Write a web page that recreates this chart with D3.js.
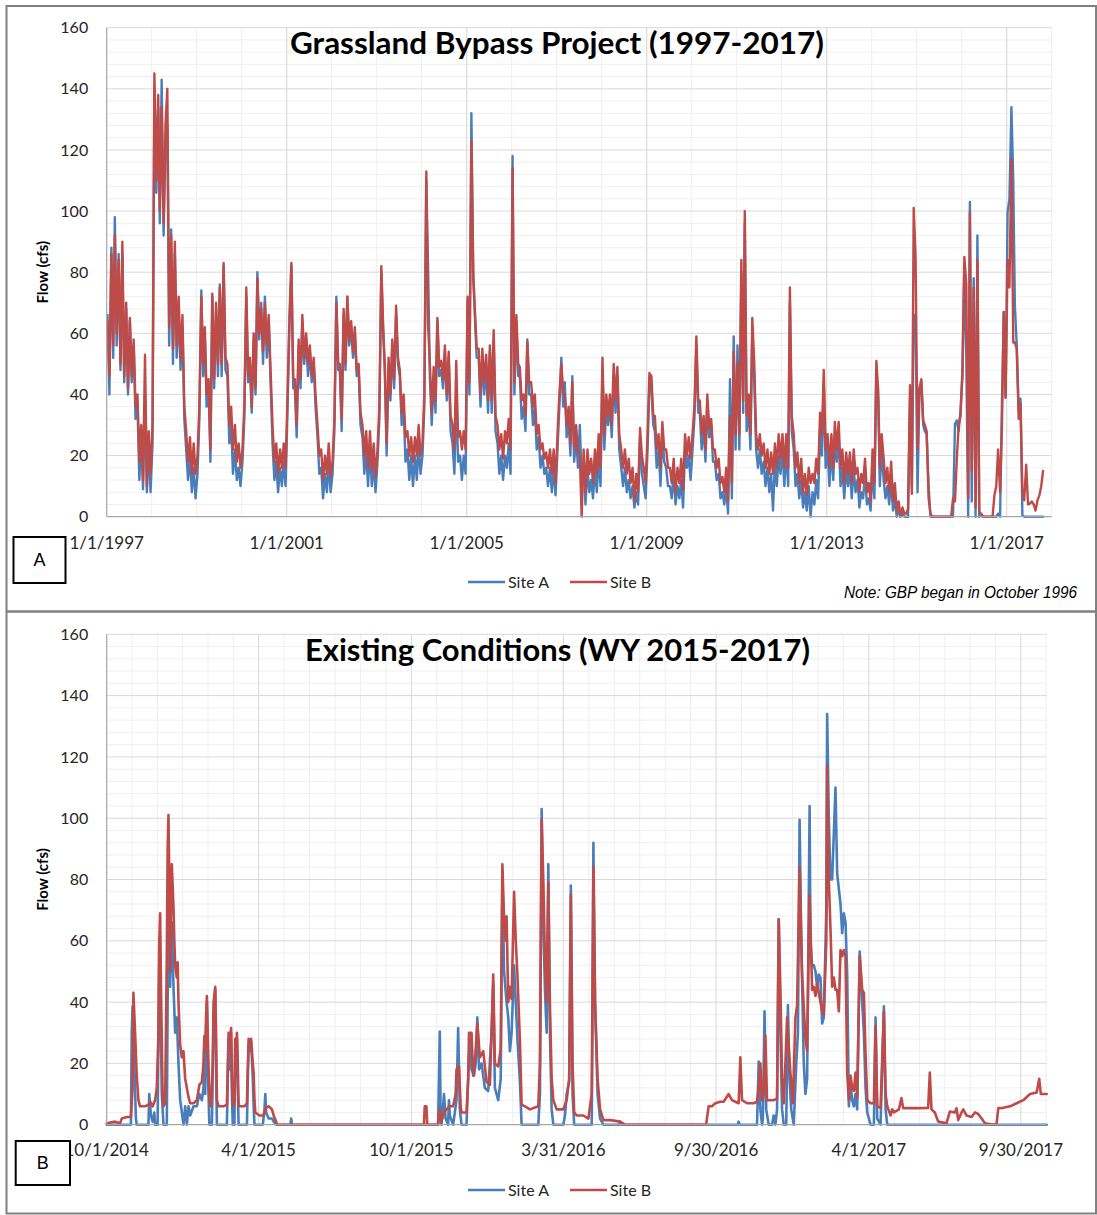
<!DOCTYPE html>
<html>
<head>
<meta charset="utf-8">
<script src="https://cdn.jsdelivr.net/npm/d3@7"></script>
<style>
  body { margin: 0; background: #fff; }
  svg { display: block; }
</style>
</head>
<body>
<svg id="chart" width="1097" height="1215"></svg>
<script>
// ---------------------------------------------------------------
// Shared labels
// ---------------------------------------------------------------
const seriesNames = ["Site A", "Site B"];
const flowTicks = [0, 20, 40, 60, 80, 100, 120, 140, 160];

// ---------------------------------------------------------------
// Panel A: Grassland Bypass Project, 1997-2017
// Semi-monthly flow (cfs), 24 readings per year starting Jan 1997
// (readings on the 8th and 23rd of each month), through Oct 2017.
// ---------------------------------------------------------------
const gbpStartYear = 1997;
const gbpTickLabels = ["1/1/1997", "1/1/2001", "1/1/2005", "1/1/2009", "1/1/2013", "1/1/2017"];

const gbpSiteA = [
  66,40,88,52,98,56,86,48,86,44,68,40,64,44,56,32,36,12,26,9,40,8,24,8,            // 1997
  24,140,106,134,96,143,92,122,128,56,94,50,86,52,68,48,62,32,22,12,20,8,16,6,     // 1998
  14,32,74,46,60,36,42,18,72,42,68,46,76,46,82,48,46,24,30,14,22,12,16,10,         // 1999
  18,32,72,44,50,34,58,40,80,58,70,50,72,52,64,44,24,12,18,8,16,10,18,10,          // 2000
  36,62,82,42,42,26,56,42,64,50,58,46,54,44,50,36,26,14,16,6,14,8,18,8,            // 2001
  14,28,72,48,48,28,66,48,72,56,62,52,60,46,48,30,26,14,22,10,22,10,18,8,          // 2002
  18,32,80,60,48,20,50,38,56,42,66,50,46,30,36,18,22,12,20,10,20,12,24,14,         // 2003
  20,36,110,80,46,30,46,34,64,46,48,42,54,38,52,28,24,14,40,18,20,12,20,14,        // 2004
  70,40,132,78,66,52,52,36,52,40,50,34,54,34,58,28,24,14,20,12,20,16,24,14,        // 2005
  118,40,64,46,46,32,36,28,58,40,40,30,36,22,26,16,20,14,16,10,16,8,16,7,          // 2006
  22,36,52,36,44,26,32,20,46,18,26,16,30,12,16,4,16,8,12,6,16,8,20,10,             // 2007
  48,22,36,30,38,26,46,34,46,22,16,10,16,8,12,6,10,3,8,4,26,14,10,6,               // 2008
  22,44,42,30,28,16,22,10,28,18,16,10,10,6,14,4,10,6,12,3,22,16,20,12,             // 2009
  22,32,56,34,34,22,30,18,38,26,30,18,18,12,14,6,8,4,10,1,45,6,59,22,              // 2010
  56,22,80,34,96,28,36,22,60,46,22,16,22,14,18,10,16,8,14,2,18,10,20,14,           // 2011
  22,10,22,10,70,28,22,10,14,6,12,3,8,2,10,0,8,4,12,6,28,20,44,16,                 // 2012
  22,10,22,12,26,18,26,10,16,6,16,10,16,6,16,8,12,3,8,6,14,4,6,2,                  // 2013
  16,6,48,38,10,22,12,6,10,4,12,2,6,0,2,0,1,0,0,0,38.6,10,66,66,                   // 2014
  8,40,44,30,28,27,10,0,0,0,0,0,0,0,0,0,0,0,0,0,30.4,31.5,28,35,                   // 2015
  46,82.6,52,0,103,5,78,0,92,0,0.3,0,0,0,0,0,0,0,0,1,0,37,67,39,                   // 2016
  99.5,104,134,110,69,56.5,35,38.6,0.5,0,0,0,0,0,0,0,0,0,0,0                       // 2017
];

const gbpSiteB = [
  64,46,86,56,92,60,84,50,90,46,70,42,65,46,58,36,40,18,30,12,53,10,28,14,         // 1997
  30,145,110,138,100,134,96,128,140,62,92,55,90,56,72,52,66,36,28,18,26,14,24,14,  // 1998
  20,36,72,50,62,40,45,22,73,45,70,50,75,50,83,52,50,30,36,22,30,18,24,16,         // 1999
  22,36,75,46,52,36,60,42,78,60,68,54,70,56,66,48,30,18,24,14,22,16,24,16,         // 2000
  40,65,83,45,45,30,58,45,66,52,60,50,56,46,52,40,30,20,22,12,20,14,24,13,         // 2001
  18,32,70,50,50,32,68,50,72,58,64,54,62,48,50,34,30,20,28,16,28,15,24,13,         // 2002
  22,36,82,62,50,24,52,40,58,45,69,52,48,34,40,26,28,20,26,18,26,20,30,20,         // 2003
  24,40,113,62,50,34,49,38,65,49,51,45,56,40,54,33,30,22,51,26,28,22,28,22,        // 2004
  72,44,123,80,68,55,55,40,55,44,53,38,56,38,61,33,30,22,27,19,28,24,32,22,        // 2005
  114,44,66,50,49,38,40,33,57,44,44,36,40,27,30,22,24,19,21,16,22,14,22,11,        // 2006
  27,40,50,40,40,30,36,24,44,22,30,21,20,0,22,8,22,14,19,11,22,14,27,16,           // 2007
  52,27,40,33,40,30,50,38,49,27,22,16,22,14,19,11,16,5,14,8,29,20,16,11,           // 2008
  27,47,46,33,33,22,27,16,31,22,22,16,16,11,19,8,16,11,19,9,27,20,26,19,           // 2009
  27,36,59,38,38,27,33,22,40,29,32,22,22,16,19,11,13,8,16,5,33,11,54,27,           // 2010
  50,27,84,38,100,33,40,27,65,51,27,22,27,20,24,16,22,14,21,14,24,16,27,19,        // 2011
  27,16,27,16,75,33,27,16,21,11,19,8,14,7,16,11,14,11,19,14,34,27,48,22,           // 2012
  27,16,27,16,31,22,31,16,22,11,21,14,21,11,22,14,16,8,14,11,19,8,11,5,            // 2013
  22,11,51,41,16,27,19,11,16,8,18,5,11,2,5,0,3,1,1,2.5,43,7.5,101,85,              // 2014
  22,42,45,31.5,30,28,6,1,0,0,0,0,0,0,0,0,0,0,0,6,5,19,30,33,                      // 2015
  49,85,76,6,99.5,15,75,3,84,1.5,1,0,0,0,0,0,0,7,10,22,8,29,67,39,                 // 2016
  84,75,117,57,57,55,32,37,8.7,5.4,17,4,4.3,5,4,2,5.4,7,10,15                      // 2017
];

// ---------------------------------------------------------------
// Panel B: Existing conditions, water years 2015-2017
// [days since 10/1/2014, flow cfs]
// ---------------------------------------------------------------
const wyStart = "10/1/2014";
const wyEndDay = 1126;
const wyTickLabels = ["10/1/2014", "4/1/2015", "10/1/2015", "3/31/2016", "9/30/2016", "4/1/2017", "9/30/2017"];

const wySiteA = [
  [0,0],[29,0],[30,30],[31,38.6],[33,20],[35,2],[36,0],[50,0],[51,10],[53,3],[55,1],[57,4],[58,0],
  [61,0],[62,30],[63,60],[64,45],[66,10],[68,0],[72,0],[73,40],[74,66],[75,55],[76,45],[77,60],[78,66],
  [79,55],[80,45],[82,30],[84,35],[86,20],[88,8],[90,4],[92,0],[94,6],[96,0],[98,6],[100,3],[104,6],
  [108,6],[111,10],[114,8],[116,12],[117,28],[118,10],[119,30],[120,40],[121,20],[123,0],[126,0],
  [127,15],[128,35],[130,44],[131,20],[132,0],[144,0],[145,15],[146,28],[147,18],[148,25],[149,30],
  [150,10],[151,0],[153,0],[154,25],[155,18],[156,28],[157,12],[158,0],[168,0],[169,15],[170,26],
  [172,24],[173,27],[175,15],[176,6],[177,0],[187,0],[189,5],[190,10],[191,4],[194,2],[198,2],[200,1],
  [203,0],[220,0],[221,2],[222,0],[397,0],[399,30.4],[400,2],[401,0],[403,6],[404,10],[406,2],[409,0],
  [410,8],[411,3],[415,0],[419,8],[421,31.5],[423,5],[425,0],[431,0],[433,15],[435,28],[437,18],
  [440,16],[442,20],[444,35],[446,18],[449,20],[453,12],[457,11],[461,30],[463,46],[465,12],[469,8],
  [472,15],[474,82.6],[476,50],[479,40],[481,35],[483,24],[485,30],[488,52],[490,40],[492,28],[495,14],
  [497,0],[517,0],[519,10],[521,103],[523,65],[525,44],[527,30],[529,85],[531,29],[533,5],[535,0],
  [547,0],[549,3],[551,10],[554,14],[556,78],[558,10],[560,0],[581,0],[582,40],[583,92],[585,40],
  [588,10],[591,2],[595,0],[614,0],[615,1],[616,0],[756,0],[757,1],[758,0],[779,0],[781,20.6],[783,5],
  [785,0],[786,2],[788,37],[790,5],[793,0],[797,0],[799,3],[801,0],[803,5],[805,67],[807,30],[809,5],
  [811,0],[814,0],[816,39],[818,15],[820,5],[823,0],[826,20],[828,30],[830,99.5],[832,60],[835,20],
  [837,10],[839,15],[842,104],[843,60],[845,52],[847,52],[849,50],[851,45],[853,49],[855,48],[857,33],
  [859,35],[862,70],[863,134],[865,100],[867,80],[869,80],[871,95],[873,110],[875,82],[877,77],[879,72],
  [881,62.5],[883,69],[885,66],[887,49],[889,6],[891,13.6],[893,8],[895,6],[897,10],[899,5],[902,56.5],
  [905,40],[907,30],[909,12],[911,4],[915,0],[919,0],[921,35],[923,2],[927,0],[931,38.6],[933,5],
  [935,0],[1126,0]
];

const wySiteB = [
  [0,0.5],[10,1],[16,0.5],[18,2],[24,2.5],[29,2.5],[31,12],[32,43],[34,30],[36,16],[38,8],[40,6],
  [46,6],[50,6.5],[52,7.5],[55,6],[58,8],[60,12],[62,30],[63,60],[64,69],[65,45],[67,10],[68,6],[70,7],
  [72,55],[73,90],[74,101],[75,80],[76,50],[77,70],[78,85],[79,78],[80,71],[81,60],[82,52],[84,48],
  [85,53],[86,40],[88,26],[90,22],[92,24],[94,15],[96,12],[98,9],[100,7],[104,7],[108,8],[111,13],
  [114,14],[116,20],[117,29],[118,24],[119,35],[120,42],[121,30],[123,8],[125,6],[127,20],[128,40],
  [130,45],[131,30],[132,8],[134,6],[140,6],[144,6.5],[145,18],[146,30],[147,25],[148,28],[149,31.5],
  [150,15],[151,6],[153,8],[154,28],[155,25],[156,30],[157,20],[158,6],[160,6],[165,6],[168,7],[169,18],
  [170,28],[172,26],[173,28],[175,20],[176,17],[177,8],[178,4],[183,3],[188,3],[190,5.4],[194,6],
  [198,5],[200,3],[203,1],[204,0],[380,0],[381,6],[383,6],[384,0],[397,0],[399,5],[401,1],[404,4],
  [407,5],[411,6],[415,6],[418,10],[419,18],[422,19],[424,6],[425,4],[431,4],[433,15],[434,30],[437,30],
  [439,16],[441,20],[444,33],[447,22],[451,24],[455,14],[459,13],[461,30],[463,49],[465,20],[469,19],
  [472,25],[474,85],[476,67],[478,60],[479,68],[481,40],[483,45],[485,41],[488,76],[490,60],[492,49],
  [495,27],[497,6.5],[501,6],[507,5],[517,6],[519,20],[521,99.5],[523,80],[525,54],[527,40],[529,79],
  [531,38],[533,15],[535,8],[539,5],[547,5],[551,8],[554,15],[556,75],[558,20],[560,4],[563,3],[571,3],
  [577,2],[581,10],[583,84],[585,40],[588,15],[591,5],[595,1.5],[603,1.5],[615,1],[621,0],[718,0],
  [721,6],[725,6],[729,7],[735,7.5],[739,7.5],[745,10],[749,8],[753,7.5],[757,7],[759,22],[761,8],
  [767,7],[775,7],[779,7.5],[781,12],[783,20],[785,8],[787,10],[789,29],[791,8],[799,8],[803,8.5],
  [805,67],[807,44],[809,15],[811,7],[813,20],[815,35],[817,25],[819,17],[822,7],[825,35],[827,39],
  [830,84],[833,49],[837,28],[839,24],[842,75],[845,44],[847,45],[849,42],[851,46],[855,40],[857,37],
  [859,36],[862,60],[863,117],[865,80],[867,64],[869,45],[871,48],[873,44],[875,44],[877,37],[879,57],
  [881,55],[883,57],[885,55],[887,17],[889,8],[891,16],[893,12],[895,11],[897,17],[899,9],[902,55],
  [905,44],[907,43],[909,23],[911,8],[915,7],[919,7],[921,32],[923,6],[927,5.5],[931,37],[933,10],
  [935,6],[939,3],[941,5],[943,4],[949,5],[952,8.7],[954,5.4],[974,5.4],[984,5.5],[986,17],[988,5],
  [992,4],[996,1],[1006,0.5],[1010,4.3],[1016,4],[1018,5.4],[1020,1.5],[1024,4],[1026,5],[1030,3],
  [1036,2.5],[1040,4],[1044,3.5],[1048,2],[1052,0.5],[1062,0],[1066,0.3],[1068,5.4],[1074,5.5],
  [1082,6],[1090,7],[1098,8],[1106,10],[1114,10.5],[1117,15],[1119,10],[1126,10]
];

// ---------------------------------------------------------------
// Styling
// ---------------------------------------------------------------
const COLORS = { "Site A": "#4a7ebb", "Site B": "#be4b48" };
const FONT = "Lato, 'Open Sans', 'DejaVu Sans', sans-serif";
const GRID_MINOR = "#efefef";
const GRID_MAJOR = "#d9d9d9";
const AXIS = "#a6a6a6";

const svg = d3.select("#chart");
const parseMDY = d3.timeParse("%m/%d/%Y");

// Outer frame and panel divider
svg.append("rect").attr("x", 6.5).attr("y", 6).attr("width", 1089.5).attr("height", 1207.5)
  .attr("fill", "none").attr("stroke", "#808080").attr("stroke-width", 2);
svg.append("line").attr("x1", 6.5).attr("x2", 1096).attr("y1", 611.5).attr("y2", 611.5)
  .attr("stroke", "#808080").attr("stroke-width", 2.5);

function drawPanel(o) {
  const g = svg.append("g");
  const x = o.x;
  const y = d3.scaleLinear().domain([0, 160]).range([o.bottom, o.top]);
  const [left, right] = x.range();

  // horizontal grid: minor every 4, major every 20
  const minorY = d3.range(4, 160, 4).filter(v => v % 20 !== 0);
  g.append("g").selectAll("line").data(minorY).join("line")
    .attr("x1", left).attr("x2", right)
    .attr("y1", d => y(d)).attr("y2", d => y(d))
    .attr("stroke", GRID_MINOR).attr("stroke-width", 1);
  // vertical grid
  g.append("g").selectAll("line").data(o.minorDates).join("line")
    .attr("x1", d => x(d)).attr("x2", d => x(d))
    .attr("y1", o.top).attr("y2", o.bottom)
    .attr("stroke", GRID_MINOR).attr("stroke-width", 1);
  g.append("g").selectAll("line").data(flowTicks.filter(v => v > 0)).join("line")
    .attr("x1", left).attr("x2", right)
    .attr("y1", d => y(d)).attr("y2", d => y(d))
    .attr("stroke", GRID_MAJOR).attr("stroke-width", 1);
  g.append("g").selectAll("line").data(o.majorDates.slice(1)).join("line")
    .attr("x1", d => x(d)).attr("x2", d => x(d))
    .attr("y1", o.top).attr("y2", o.bottom)
    .attr("stroke", GRID_MAJOR).attr("stroke-width", 1);

  // series (Site A underneath, Site B on top)
  const line = d3.line().x(d => x(d.date)).y(d => y(d.flow));
  o.series.forEach(s => {
    g.append("path").datum(s.values)
      .attr("d", line)
      .attr("fill", "none")
      .attr("stroke", COLORS[s.name])
      .attr("stroke-width", o.lineWidth)
      .attr("stroke-linejoin", "round")
      .attr("stroke-linecap", "round");
  });

  // axis lines
  g.append("line").attr("x1", left).attr("x2", left).attr("y1", o.top).attr("y2", o.bottom)
    .attr("stroke", AXIS).attr("stroke-width", 1.2);
  g.append("line").attr("x1", left).attr("x2", right).attr("y1", o.bottom).attr("y2", o.bottom)
    .attr("stroke", AXIS).attr("stroke-width", 1.2);

  // y tick labels
  g.append("g").selectAll("text").data(flowTicks).join("text")
    .attr("x", left - 18.5).attr("y", d => y(d))
    .attr("dy", "0.35em")
    .attr("text-anchor", "end")
    .attr("font-family", FONT).attr("font-size", 16).attr("fill", "#262626")
    .text(d => d);

  // x tick labels
  g.append("g").selectAll("text").data(o.majorDates).join("text")
    .attr("x", d => x(d)).attr("y", o.xLabelY)
    .attr("text-anchor", "middle")
    .attr("font-family", FONT).attr("font-size", 17).attr("fill", "#262626")
    .text((d, i) => o.tickLabels[i]);

  // y axis title
  g.append("text")
    .attr("transform", `translate(43,${(o.top + o.bottom) / 2}) rotate(-90)`)
    .attr("dy", "0.35em")
    .attr("text-anchor", "middle")
    .attr("font-family", FONT).attr("font-weight", 700).attr("font-size", 15).attr("fill", "#000")
    .text("Flow (cfs)");

  // chart title
  g.append("text")
    .attr("x", o.titleX).attr("y", o.titleY)
    .attr("textLength", o.titleWidth).attr("lengthAdjust", "spacingAndGlyphs")
    .attr("font-family", FONT).attr("font-weight", 700).attr("font-size", 30).attr("fill", "#000")
    .text(o.title);

  // legend
  const lg = g.append("g");
  const legendX = [468, 570];
  seriesNames.forEach((name, i) => {
    lg.append("line")
      .attr("x1", legendX[i]).attr("x2", legendX[i] + 37)
      .attr("y1", o.legendY).attr("y2", o.legendY)
      .attr("stroke", COLORS[name]).attr("stroke-width", 2.6);
    lg.append("text")
      .attr("x", legendX[i] + 40).attr("y", o.legendY)
      .attr("dy", "0.35em")
      .attr("font-family", FONT).attr("font-size", 16).attr("fill", "#262626")
      .text(name);
  });

  // panel tag box
  const box = g.append("g");
  box.append("rect")
    .attr("x", o.box[0]).attr("y", o.box[1]).attr("width", o.box[2]).attr("height", o.box[3])
    .attr("fill", "#fff").attr("stroke", "#000").attr("stroke-width", 2);
  box.append("text")
    .attr("x", o.box[0] + o.box[2] / 2).attr("y", o.box[1] + o.box[3] / 2)
    .attr("dy", "0.36em").attr("text-anchor", "middle")
    .attr("font-family", "'Liberation Sans', Arial, sans-serif").attr("font-size", 18).attr("fill", "#000")
    .text(o.tag);
}

// ---- Panel A ----
const gbpDate = i => {
  const year = gbpStartYear + Math.floor(i / 24);
  const j = i % 24;
  return new Date(year, Math.floor(j / 2), j % 2 ? 23 : 8);
};
const xA = d3.scaleTime()
  .domain([new Date(gbpStartYear, 0, 1), new Date(2018, 0, 1)])
  .range([106.7, 1051.7]);
const gbpMajor = gbpTickLabels.map(parseMDY);
const gbpMinor = d3.range(gbpStartYear + 1, 2019).map(yr => new Date(yr, 0, 1));

drawPanel({
  x: xA, top: 27.7, bottom: 516.7,
  majorDates: gbpMajor, minorDates: gbpMinor, tickLabels: gbpTickLabels,
  xLabelY: 548.5,
  title: "Grassland Bypass Project (1997-2017)", titleX: 290, titleY: 53.5, titleWidth: 534,
  legendY: 582,
  lineWidth: 2.4,
  series: [
    { name: "Site A", values: gbpSiteA.map((v, i) => ({ date: gbpDate(i), flow: v })) },
    { name: "Site B", values: gbpSiteB.map((v, i) => ({ date: gbpDate(i), flow: v })) }
  ],
  box: [13.5, 537, 52, 46], tag: "A"
});

// note under panel A
svg.append("text")
  .attr("x", 844).attr("y", 597.5)
  .attr("textLength", 233).attr("lengthAdjust", "spacingAndGlyphs")
  .attr("font-family", "'Liberation Sans Narrow', 'Liberation Sans', Arial, sans-serif")
  .attr("font-style", "italic").attr("font-size", 16.5).attr("fill", "#000")
  .text("Note: GBP began in October 1996");

// ---- Panel B ----
const wy0 = parseMDY(wyStart);
const xB = d3.scaleTime()
  .domain([wy0, d3.timeDay.offset(wy0, wyEndDay)])
  .range([106.7, 1046.7]);
const wyMajor = wyTickLabels.map(parseMDY);
const wyMinor = [];
wyMajor.forEach((d, k) => {
  const next = k < wyMajor.length - 1 ? wyMajor[k + 1] : null;
  const step = next ? (next - d) / 6 : (wyMajor[k] - wyMajor[k - 1]) / 6;
  for (let m = 1; m <= (next ? 5 : 1); m++) wyMinor.push(new Date(+d + step * m));
});

drawPanel({
  x: xB, top: 634.3, bottom: 1124.7,
  majorDates: wyMajor, minorDates: wyMinor, tickLabels: wyTickLabels,
  xLabelY: 1156,
  title: "Existing Conditions (WY 2015-2017)", titleX: 305, titleY: 661, titleWidth: 505,
  legendY: 1190,
  lineWidth: 2.6,
  series: [
    { name: "Site A", values: wySiteA.map(([d, v]) => ({ date: d3.timeDay.offset(wy0, d), flow: v })) },
    { name: "Site B", values: wySiteB.map(([d, v]) => ({ date: d3.timeDay.offset(wy0, d), flow: v })) }
  ],
  box: [15.7, 1141, 54.3, 44], tag: "B"
});
</script>
</body>
</html>
